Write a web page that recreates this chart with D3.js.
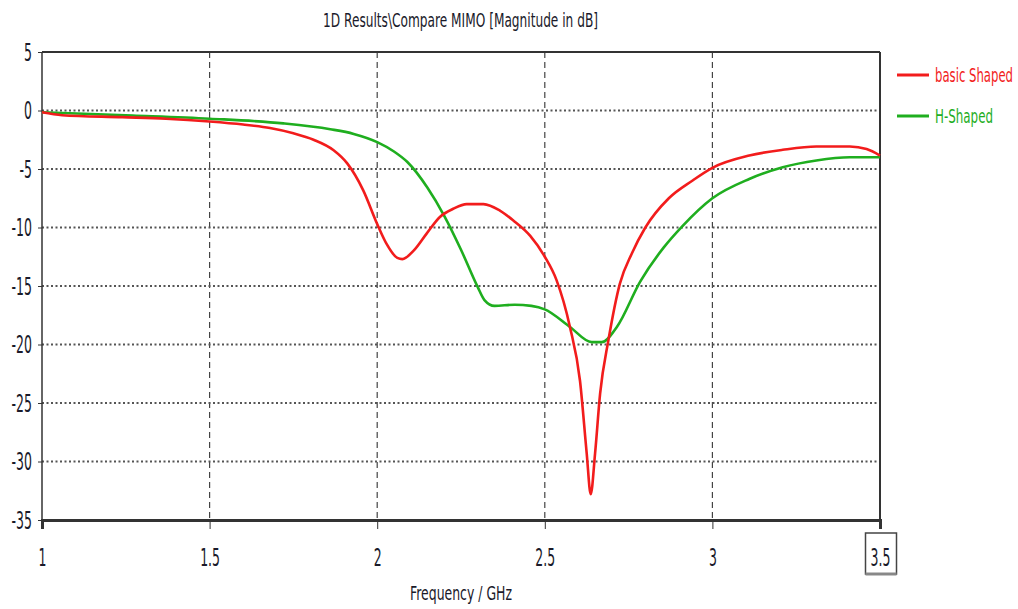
<!DOCTYPE html>
<html>
<head>
<meta charset="utf-8">
<script src="https://cdn.jsdelivr.net/npm/d3@7"></script>
<style>
  body { margin: 0; background: #fff; }
  text { font-family: "DejaVu Sans", sans-serif; fill: #1a1a2a; }
</style>
</head>
<body>
<div id="chart"></div>
<script>
// frequency points (GHz) and magnitude (dB) per series
const basicFreq = [1.0,1.06,1.24,1.37,1.5,1.6,1.68,1.75,1.81,1.87,1.91,1.958,2.0,2.028,2.06,2.075,2.108,2.148,2.187,2.227,2.267,2.317,2.366,2.406,2.456,2.5,2.535,2.575,2.605,2.625,2.637,2.65,2.665,2.69,2.724,2.76,2.80,2.87,2.94,3.0,3.11,3.21,3.31,3.41,3.46,3.5];
const basicDb   = [-0.15,-0.4,-0.57,-0.7,-0.94,-1.2,-1.5,-1.95,-2.5,-3.4,-4.5,-6.8,-9.7,-11.4,-12.6,-12.7,-12.0,-10.5,-9.1,-8.4,-8.0,-8.0,-8.55,-9.4,-10.7,-12.5,-14.5,-18.5,-23.1,-29.3,-32.8,-29.3,-24.2,-19.6,-14.8,-12.2,-10,-7.5,-6.0,-4.9,-3.85,-3.36,-3.08,-3.08,-3.3,-3.85];

const hFreq = [1.0,1.27,1.5,1.72,1.86,1.93,2.0,2.05,2.09,2.15,2.2,2.25,2.3,2.32,2.35,2.41,2.46,2.5,2.575,2.64,2.67,2.715,2.785,2.855,2.91,3.0,3.11,3.21,3.31,3.41,3.5];
const hDb   = [-0.15,-0.43,-0.7,-1.1,-1.6,-2.0,-2.7,-3.5,-4.4,-6.6,-9.0,-11.9,-15.1,-16.2,-16.7,-16.6,-16.7,-17.0,-18.5,-19.8,-19.8,-18.5,-14.6,-11.7,-9.9,-7.5,-5.85,-4.85,-4.27,-4.0,-4.0];

const xTicks = [1, 1.5, 2, 2.5, 3, 3.5];
const yTicks = [5, 0, -5, -10, -15, -20, -25, -30, -35];
const seriesNames = ["basic Shaped", "H-Shaped"];
const seriesColors = ["#f21c1c", "#1fae1f"];

const W = 1018, H = 609;
const margin = { top: 52, right: 138, bottom: 89, left: 42 },
      width = W - margin.left - margin.right,
      height = H - margin.top - margin.bottom;

// the reference font is tall and narrow, so glyphs get squeezed horizontally
const squeeze = 0.5;

const svg = d3.select("#chart").append("svg")
  .attr("width", W).attr("height", H);

const g = svg.append("g")
  .attr("transform", `translate(${margin.left},${margin.top})`);

const x = d3.scaleLinear().domain([1, 3.5]).range([0, width]);
const y = d3.scaleLinear().domain([-35, 5]).range([height, 0]);

// grid: vertical dashed, horizontal dotted
g.selectAll("line.vgrid")
  .data(xTicks.slice(1, -1))
  .enter().append("line")
    .attr("x1", d => x(d)).attr("x2", d => x(d))
    .attr("y1", 0).attr("y2", height)
    .attr("stroke", "#444").attr("stroke-width", 1.2)
    .attr("stroke-dasharray", "6,4");

g.selectAll("line.hgrid")
  .data(yTicks.slice(1, -1))
  .enter().append("line")
    .attr("x1", 0).attr("x2", width)
    .attr("y1", d => y(d)).attr("y2", d => y(d))
    .attr("stroke", "#555").attr("stroke-width", 2)
    .attr("stroke-dasharray", "2,2.5");

// frame
g.append("line").attr("x1", 0).attr("x2", width).attr("y1", 0).attr("y2", 0)
  .attr("stroke", "#333").attr("stroke-width", 2);
g.append("line").attr("x1", width).attr("x2", width).attr("y1", 0).attr("y2", height)
  .attr("stroke", "#333").attr("stroke-width", 2);
g.append("line").attr("x1", 0).attr("x2", 0).attr("y1", 0).attr("y2", height)
  .attr("stroke", "#333").attr("stroke-width", 1.5);

// bottom axis
const xAxis = g.append("g")
  .attr("transform", `translate(0,${height})`)
  .call(d3.axisBottom(x).tickValues(xTicks).tickSize(9).tickPadding(19)
    .tickFormat(d => String(d)));
xAxis.select(".domain").attr("stroke", "#333").attr("stroke-width", 3);
xAxis.selectAll(".tick line").attr("stroke", "#333");
xAxis.selectAll("text")
  .style("font-size", "25px").attr("fill", "#1a1a2a")
  .attr("transform", `scale(${squeeze},1)`);

// box around the last x label
const lastTick = xAxis.selectAll(".tick").filter(d => d === 3.5);
lastTick.insert("rect", "text")
  .attr("x", -15).attr("y", 13).attr("width", 31).attr("height", 41)
  .attr("fill", "#fff").attr("stroke", "#444").attr("stroke-width", 1.5);
lastTick.insert("line", "text")
  .attr("x1", -15).attr("x2", 16).attr("y1", 54).attr("y2", 54)
  .attr("stroke", "#888").attr("stroke-width", 3);

// left axis
const yAxis = g.append("g")
  .call(d3.axisLeft(y).tickValues(yTicks).tickSize(4).tickPadding(16)
    .tickFormat(d => String(d)));
yAxis.select(".domain").remove();
yAxis.selectAll(".tick line").attr("stroke", "#333");
yAxis.selectAll("text")
  .style("font-size", "25px").attr("fill", "#1a1a2a")
  .attr("transform", `scale(${squeeze},1)`);

// curves
const line = d3.line()
  .x(d => x(d[0]))
  .y(d => y(d[1]))
  .curve(d3.curveMonotoneX);

const series = [
  d3.zip(basicFreq, basicDb),
  d3.zip(hFreq, hDb)
];

// draw green first so red sits on top like the reference
[1, 0].forEach(i => {
  g.append("path")
    .datum(series[i])
    .attr("fill", "none")
    .attr("stroke", seriesColors[i])
    .attr("stroke-width", 2.6)
    .attr("stroke-linejoin", "round")
    .attr("d", line);
});

// legend
const legendWidths = [78, 58];
const legend = svg.append("g")
  .attr("transform", `translate(${margin.left + width + 17}, 75)`);
seriesNames.forEach((name, i) => {
  const row = legend.append("g").attr("transform", `translate(0, ${i * 41})`);
  row.append("line")
    .attr("x1", 0).attr("x2", 32).attr("y1", 0).attr("y2", 0)
    .attr("stroke", seriesColors[i]).attr("stroke-width", 3);
  row.append("text")
    .attr("x", 38).attr("y", 7)
    .attr("textLength", legendWidths[i])
    .attr("lengthAdjust", "spacingAndGlyphs")
    .style("font-size", "20px")
    .style("fill", seriesColors[i])
    .text(name);
});

// title
svg.append("text")
  .attr("x", 323)
  .attr("y", 27)
  .attr("textLength", 275)
  .attr("lengthAdjust", "spacingAndGlyphs")
  .style("font-size", "20px")
  .text("1D Results\\Compare MIMO [Magnitude in dB]");

// x axis title
svg.append("text")
  .attr("x", 410)
  .attr("y", 600)
  .attr("textLength", 102)
  .attr("lengthAdjust", "spacingAndGlyphs")
  .style("font-size", "20px")
  .text("Frequency / GHz");
</script>
</body>
</html>
